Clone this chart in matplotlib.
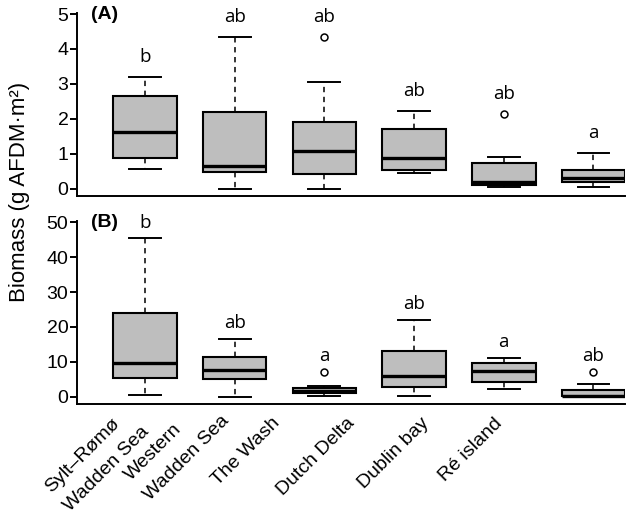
import matplotlib
matplotlib.use("Agg")
import matplotlib.pyplot as plt
import matplotlib.transforms as mtransforms
from matplotlib.font_manager import FontProperties
import numpy as np

plt.rcParams['font.family'] = ['Liberation Sans', 'DejaVu Sans']

sites = ["Sylt\u2013R\u00f8m\u00f8\nWadden Sea", "Western\nWadden Sea", "The Wash",
         "Dutch Delta", "Dublin bay", "R\u00e9 island"]

# Panel A
a_low = [0.56, 0.0, 0.0, 0.45, 0.06, 0.06]
a_q1 = [0.88, 0.47, 0.41, 0.52, 0.11, 0.18]
a_med = [1.63, 0.66, 1.08, 0.87, 0.19, 0.30]
a_q3 = [2.65, 2.20, 1.90, 1.72, 0.73, 0.54]
a_high = [3.20, 4.35, 3.06, 2.22, 0.90, 1.01]
a_fliers = [[], [], [4.34], [], [2.14], []]
a_letters = ['b', 'ab', 'ab', 'ab', 'ab', 'a']

# Panel B
b_low = [0.5, 0.0, 0.2, 0.1, 2.3, 0.0]
b_q1 = [5.5, 5.0, 1.0, 2.8, 4.2, 0.1]
b_med = [9.6, 7.7, 1.7, 6.0, 7.3, 0.3]
b_q3 = [24.1, 11.5, 2.6, 13.2, 9.6, 2.0]
b_high = [45.4, 16.6, 3.2, 22.0, 11.2, 3.6]
b_fliers = [[], [], [7.1], [], [], [7.1]]
b_letters = ['b', 'ab', 'a', 'ab', 'a', 'ab']

a_ticks = [0, 1, 2, 3, 4, 5]
b_ticks = [0, 10, 20, 30, 40, 50]

# layout: x anchors (data units) of the rotated category labels, and shift along text (px)
label_x = [0.69, 1.45, 2.48, 3.31, 4.14, 4.96]
label_shift = [0, -9, 0, 0, 0, 0]

fig = plt.figure(figsize=(6.28, 5.14), dpi=100)
axA = fig.add_axes([0.1234, 0.6187, 0.8718, 0.356])
axB = fig.add_axes([0.1234, 0.214, 0.8718, 0.3566])

positions = np.arange(1, len(sites) + 1)
grey = '#BEBEBE'


def draw(ax, low, q1, med, q3, high, fliers, letters, ticks, ylim, gap_pts, tag):
    stats = [dict(whislo=l, q1=a, med=m, q3=b, whishi=h, fliers=f)
             for l, a, m, b, h, f in zip(low, q1, med, q3, high, fliers)]
    ax.bxp(stats, positions=positions, widths=0.708, patch_artist=True,
           showfliers=True, manage_ticks=False,
           boxprops=dict(facecolor=grey, edgecolor='black', linewidth=1.5),
           medianprops=dict(color='black', linewidth=2.4, solid_capstyle='butt'),
           whiskerprops=dict(color='black', linewidth=1.1, linestyle=(0, (3.5, 3))),
           capprops=dict(color='black', linewidth=1.4),
           flierprops=dict(marker='o', markersize=5, markerfacecolor='white',
                           markeredgecolor='black', markeredgewidth=1.1))
    ax.set_xlim(0.248, 6.351)
    ax.set_ylim(*ylim)
    ax.set_yticks(ticks)
    ax.set_yticklabels([str(t) for t in ticks])
    ax.set_xticks([])
    for s in ['top', 'right']:
        ax.spines[s].set_visible(False)
    for s in ['left', 'bottom']:
        ax.spines[s].set_linewidth(1.4)
    ax.tick_params(axis='y', length=5, width=1.4, pad=1.5, labelsize=14)
    off = mtransforms.offset_copy(ax.transData, fig=fig, x=0, y=gap_pts, units='points')
    for x, hi, f, lab in zip(positions, high, fliers, letters):
        top = max([hi] + list(f))
        ax.text(x, top, lab, transform=off, ha='center', va='bottom',
                fontsize=13.5, family=['Open Sans', 'DejaVu Sans'])
    ax.text(0.025, ticks[-1], tag,
            transform=mtransforms.blended_transform_factory(ax.transAxes, ax.transData),
            ha='left', va='center', fontsize=14, fontweight='bold')


draw(axA, a_low, a_q1, a_med, a_q3, a_high, a_fliers, a_letters, a_ticks, (-0.21, 5.03), 8, '(A)')
draw(axB, b_low, b_q1, b_med, b_q3, b_high, b_fliers, b_letters, b_ticks, (-2.1, 50.5), 5, '(B)')

# rotated category labels: first line right-anchored, following lines left-aligned with it
renderer = fig.canvas.get_renderer()
fp = FontProperties(family=['Liberation Sans', 'DejaVu Sans'], size=14)
ang = np.deg2rad(45)
along = np.array([np.cos(ang), np.sin(ang)])
perp = np.array([np.sin(ang), -np.cos(ang)])
line_gap = 27  # px between lines
base_tr = mtransforms.blended_transform_factory(axB.transData, axB.transAxes)
for x, sh, s in zip(label_x, label_shift, sites):
    ax_pt = base_tr.transform((x, 0)) + np.array([0, -12 * fig.dpi / 72]) + sh * along
    lines = s.split('\n')
    w0, _, _ = renderer.get_text_width_height_descent(lines[0], fp, ismath=False)
    start = ax_pt - w0 * along
    fig.text(ax_pt[0], ax_pt[1], lines[0], transform=None, rotation=45,
             rotation_mode='anchor', ha='right', va='center', fontproperties=fp)
    for k, ln in enumerate(lines[1:], start=1):
        p = start + k * line_gap * perp
        fig.text(p[0], p[1], ln, transform=None, rotation=45,
                 rotation_mode='anchor', ha='left', va='center', fontproperties=fp)

fig.text(20 / 628, 1 - 192 / 514, "Biomass (g AFDM\u00b7m\u00b2)", rotation=90,
         ha='center', va='center', fontsize=16)

fig.savefig('out.png', dpi=100)
